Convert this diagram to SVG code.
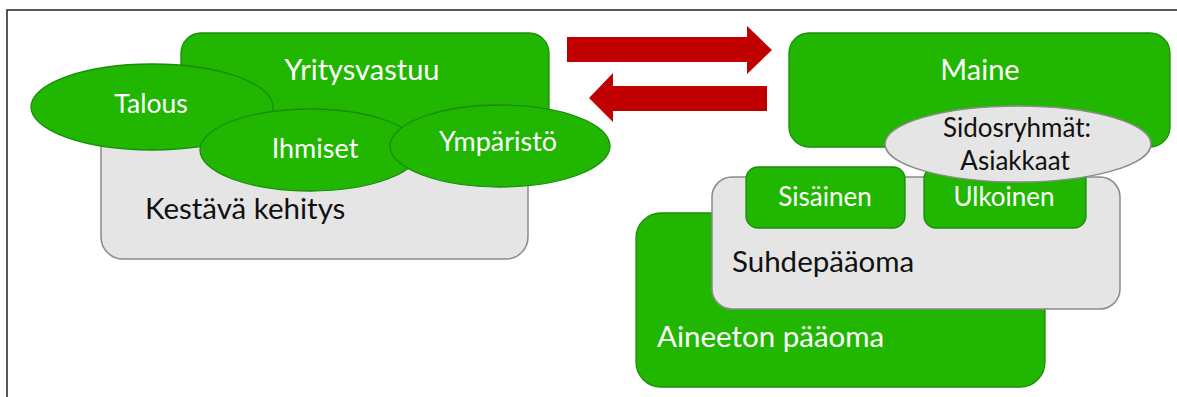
<svg xmlns="http://www.w3.org/2000/svg" width="1177" height="397" viewBox="0 0 1177 397">
<style>
.g{fill:#21b700;stroke:#1a8c0c;stroke-width:1.3}
.gr{fill:#e5e5e5;stroke:#8a8a8a;stroke-width:1.5}
.arr{fill:#c00000;stroke:none}
text{font-family:Lato,"Open Sans","Liberation Sans",sans-serif}
.w{fill:#ffffff}
.b{fill:#111111}
.c{text-anchor:middle}
</style>
<rect x="0" y="0" width="1177" height="397" fill="#ffffff"/>
<rect x="7" y="10" width="1200" height="420" fill="none" stroke="#222" stroke-width="1.5"/>

<g id="kestava">
<rect class="gr" x="101" y="118" width="427" height="141" rx="22"/>
<text class="b" x="145" y="219" font-size="29.5">Kestävä kehitys</text>
</g>
<g id="yritysvastuu">
<rect class="g" x="181" y="33" width="368" height="108" rx="20"/>
<text class="w c" x="362" y="80" font-size="29">Yritysvastuu</text>
</g>
<g id="talous">
<ellipse class="g" cx="152" cy="107" rx="121" ry="43"/>
<text class="w c" x="151" y="113" font-size="26.5">Talous</text>
</g>
<g id="ihmiset">
<ellipse class="g" cx="310" cy="150" rx="110" ry="41"/>
<text class="w c" x="315" y="158" font-size="27">Ihmiset</text>
</g>
<g id="ymparisto">
<ellipse class="g" cx="500" cy="146" rx="110" ry="41"/>
<text class="w c" x="498" y="151" font-size="27">Ympäristö</text>
</g>

<g id="aineeton">
<rect class="g" x="636" y="213" width="409" height="174" rx="25"/>
<text class="w" x="657" y="347" font-size="29.5">Aineeton pääoma</text>
</g>
<g id="suhdepaaoma">
<rect class="gr" x="712" y="177" width="408" height="132" rx="20"/>
<text class="b" x="732" y="272" font-size="29.5">Suhdepääoma</text>
</g>
<g id="sisainen">
<rect class="g" x="746" y="167" width="159" height="61" rx="12"/>
<text class="w c" x="825" y="206" font-size="26">Sisäinen</text>
</g>
<g id="ulkoinen">
<rect class="g" x="924" y="167" width="162" height="61" rx="12"/>
<text class="w c" x="1004" y="206" font-size="26">Ulkoinen</text>
</g>
<g id="maine">
<rect class="g" x="789" y="33" width="381" height="114" rx="20"/>
<text class="w c" x="980" y="80" font-size="29">Maine</text>
</g>
<g id="sidosryhmat">
<ellipse class="gr" cx="1018" cy="144" rx="133" ry="38"/>
<text class="b c" x="1017" y="137" font-size="26">Sidosryhmät:</text>
<text class="b c" x="1015" y="170" font-size="26">Asiakkaat</text>
</g>

<g id="connectors">
<polygon class="arr" points="567,37 747,37 747,26 772,50 747,74 747,62 567,62"/>
<polygon class="arr" points="767,86 613,86 613,73 589,98 613,122 613,111 767,111"/>
</g>
</svg>
